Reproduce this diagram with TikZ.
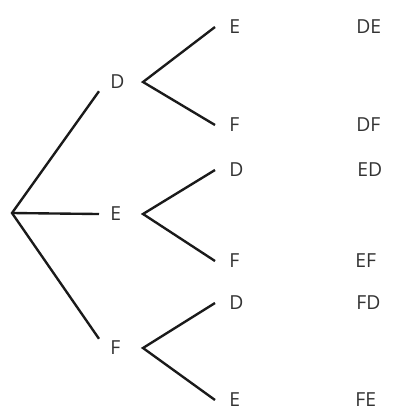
\documentclass[tikz,border=0pt]{standalone}
\usepackage{fontspec}
\setmainfont{Open Sans}
\definecolor{ink}{HTML}{333333}
\definecolor{branch}{HTML}{1A1A1A}
\tikzset{lbl/.style={anchor=west,inner xsep=0.22cm,inner ysep=0.04cm,text height=0.275cm,text depth=0pt,
    font=\fontsize{11}{13}\selectfont,text=ink},
  leaf/.style={lbl,inner xsep=0.28cm},
  edge/.style={line width=1.35pt,draw=branch}}

\begin{document}
\begin{tikzpicture}[x=0.02cm,y=-0.02cm]
\useasboundingbox (0,0) rectangle (418,410);
\coordinate (root) at (12,213);
% first choice
\node[lbl] (d) at (99,82) {D};
\node[lbl] (e) at (99,214) {E};
\node[lbl] (f) at (99,348) {F};
\coordinate (d fork) at (143,0 |- d);
\coordinate (e fork) at (143,0 |- e);
\coordinate (f fork) at (143,0 |- f);
% second choice
\node[leaf] (d-e) at (215,27) {E};
\node[leaf] (d-f) at (215,125) {F};
\node[leaf] (e-d) at (215,170) {D};
\node[leaf] (e-f) at (215,261) {F};
\node[leaf] (f-d) at (215,303) {D};
\node[leaf] (f-e) at (215,400) {E};
% outcomes
\node[lbl] (out-de) at (345,27) {DE};
\node[lbl] (out-df) at (345,125) {DF};
\node[lbl] (out-ed) at (346,170) {ED};
\node[lbl] (out-ef) at (344,261) {EF};
\node[lbl] (out-fd) at (345,303) {FD};
\node[lbl] (out-fe) at (344,400) {FE};
\draw[edge] (d.south west) -- (root) -- (f.north west);
\draw[edge] (root) -- (e.west);
\draw[edge] (d-e.west) -- (d fork) -- (d-f.west);
\draw[edge] (e-d.west) -- (e fork) -- (e-f.west);
\draw[edge] (f-d.west) -- (f fork) -- (f-e.west);
\end{tikzpicture}
\end{document}
